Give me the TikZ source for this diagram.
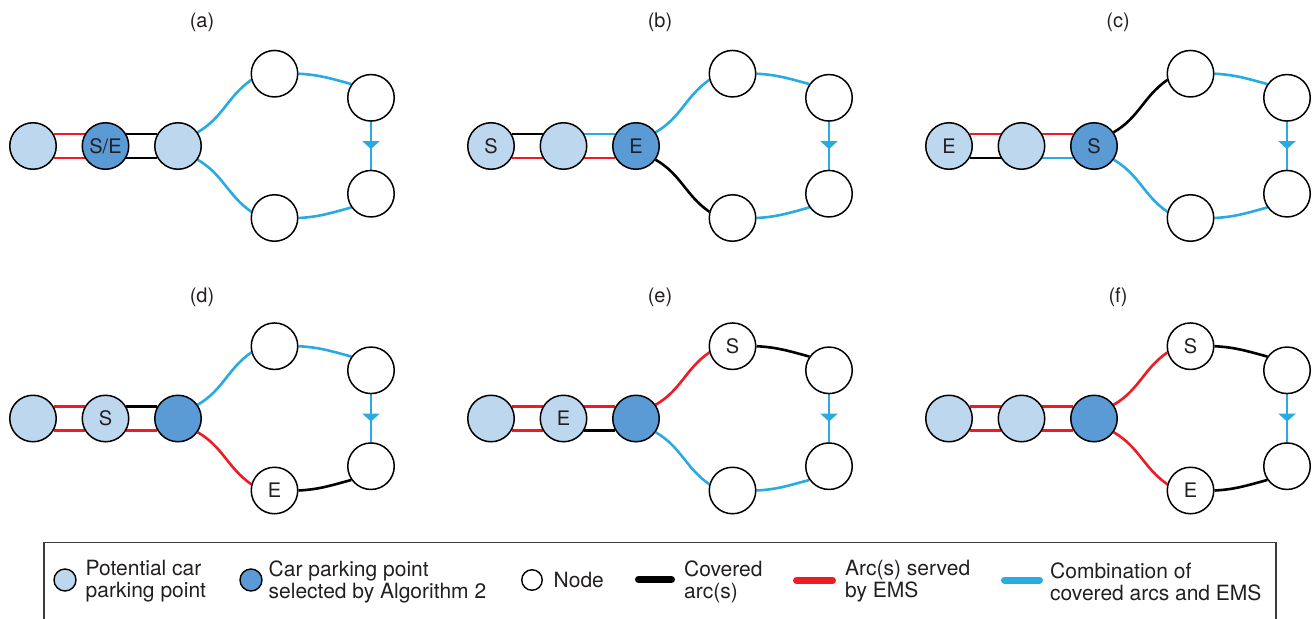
\documentclass[tikz,border=0pt]{standalone}
\usepackage{fontspec}
\setmainfont{TeX Gyre Heros}
\usetikzlibrary{arrows.meta,decorations.markings,backgrounds}
\definecolor{lightpt}{RGB}{189,215,238}
\definecolor{darkpt}{RGB}{91,155,213}
\definecolor{emsred}{RGB}{237,28,36}
\definecolor{combo}{RGB}{41,171,226}
\definecolor{txt}{RGB}{35,31,32}
\definecolor{frame}{RGB}{60,60,60}
\tikzset{
  circ/.style={circle, draw=black, line width=1.5pt, minimum size=46.5pt, inner sep=0pt, text=txt, font=\fontsize{20}{24}\selectfont},
  lp/.style={circ, fill=lightpt},
  dp/.style={circ, fill=darkpt},
  wn/.style={circ, fill=white},
  edgeline/.style={line width=2.6pt},
  cov/.style={edgeline, draw=black},
  ems/.style={edgeline, draw=emsred},
  cmb/.style={edgeline, draw=combo},
  flow/.style={cmb, postaction={decorate}, decoration={markings, mark=at position 0.57 with {\arrow{Triangle[width=17pt,length=8pt,color=combo]}}}},
  ptitle/.style={text=txt, font=\fontsize{20}{24}\selectfont, inner sep=0pt},
  lcirc/.style={circle, draw=black, line width=1.4pt, minimum size=22pt, inner sep=0pt},
  ltext/.style={anchor=west, align=left, inner sep=0pt, text=txt, font=\fontsize{21}{22}\selectfont},
  lline/.style={line width=7pt, line cap=round},
}
\newcommand\pedges[9]{%
  \begin{pgfonlayer}{background}
  \draw[#2] (#11.30) -- (#12.150);
  \draw[#3] (#11.-30) -- (#12.-150);
  \draw[#4] (#12.30) -- (#13.150);
  \draw[#5] (#12.-30) -- (#13.-150);
  \draw[#6] (#13.35) to[out=30,in=215] (#14.195);
  \draw[#7] (#13.-35) to[out=-30,in=145] (#17.165);
  \draw[#8] (#14.0) to[out=-3,in=165] (#15.145);
  \draw[#9] (#17.0) to[out=3,in=195] (#16.215);
  \draw[flow] (#15.south) -- (#16.north);
  \end{pgfonlayer}}
\begin{document}
\begin{tikzpicture}[x=1pt,y=-1pt]
\useasboundingbox (0,0) rectangle (1316,618);
% (a)
\begin{scope}[shift={(0,0)}]
  \node[ptitle] (at) at (202,22) {(a)};
  \node[lp] (a1) at (33,146) {};
  \node[dp] (a2) at (105.5,146) {S/E};
  \node[lp] (a3) at (178,146) {};
  \node[wn] (a4) at (274.5,73.7) {};
  \node[wn] (a5) at (371,97.8) {};
  \node[wn] (a6) at (371,193.7) {};
  \node[wn] (a7) at (274.5,218) {};
\end{scope}
\pedges{a}{ems}{ems}{cov}{cov}{cmb}{cmb}{cmb}{cmb}
% (b)
\begin{scope}[shift={(458,0)}]
  \node[ptitle] (bt) at (202,22) {(b)};
  \node[lp] (b1) at (33,146) {S};
  \node[lp] (b2) at (105.5,146) {};
  \node[dp] (b3) at (178,146) {E};
  \node[wn] (b4) at (274.5,73.7) {};
  \node[wn] (b5) at (371,97.8) {};
  \node[wn] (b6) at (371,193.7) {};
  \node[wn] (b7) at (274.5,218) {};
\end{scope}
\pedges{b}{cov}{ems}{cmb}{ems}{cmb}{cov}{cmb}{cmb}
% (c)
\begin{scope}[shift={(916,0)}]
  \node[ptitle] (ct) at (202,22) {(c)};
  \node[lp] (c1) at (33,146) {E};
  \node[lp] (c2) at (105.5,146) {};
  \node[dp] (c3) at (178,146) {S};
  \node[wn] (c4) at (274.5,73.7) {};
  \node[wn] (c5) at (371,97.8) {};
  \node[wn] (c6) at (371,193.7) {};
  \node[wn] (c7) at (274.5,218) {};
\end{scope}
\pedges{c}{ems}{cov}{ems}{cmb}{cov}{cmb}{cmb}{cmb}
% (d)
\begin{scope}[shift={(0,272.5)}]
  \node[ptitle] (dt) at (202,24.5) {(d)};
  \node[lp] (d1) at (33,146) {};
  \node[lp] (d2) at (105.5,146) {S};
  \node[dp] (d3) at (178,146) {};
  \node[wn] (d4) at (274.5,73.7) {};
  \node[wn] (d5) at (371,97.8) {};
  \node[wn] (d6) at (371,193.7) {};
  \node[wn] (d7) at (274.5,218) {E};
\end{scope}
\pedges{d}{ems}{ems}{cov}{ems}{cmb}{ems}{cmb}{cov}
% (e)
\begin{scope}[shift={(458,272.5)}]
  \node[ptitle] (et) at (202,24.5) {(e)};
  \node[lp] (e1) at (33,146) {};
  \node[lp] (e2) at (105.5,146) {E};
  \node[dp] (e3) at (178,146) {};
  \node[wn] (e4) at (274.5,73.7) {S};
  \node[wn] (e5) at (371,97.8) {};
  \node[wn] (e6) at (371,193.7) {};
  \node[wn] (e7) at (274.5,218) {};
\end{scope}
\pedges{e}{ems}{ems}{ems}{cov}{ems}{cmb}{cov}{cmb}
% (f)
\begin{scope}[shift={(916,272.5)}]
  \node[ptitle] (ft) at (202,24.5) {(f)};
  \node[lp] (f1) at (33,146) {};
  \node[lp] (f2) at (105.5,146) {};
  \node[dp] (f3) at (178,146) {};
  \node[wn] (f4) at (274.5,73.7) {S};
  \node[wn] (f5) at (371,97.8) {};
  \node[wn] (f6) at (371,193.7) {};
  \node[wn] (f7) at (274.5,218) {E};
\end{scope}
\pedges{f}{ems}{ems}{ems}{ems}{ems}{ems}{cov}{cov}
% legend
\draw[frame, line width=1.2pt] (44,622) -- (44,542.3) -- (1276,542.3) -- (1276,622);
\node[lcirc, fill=lightpt] (lg1) at (65,580) {};
\node[ltext] (lg1t) at (85.5,581.5) {Potential car\\parking point};
\node[lcirc, fill=darkpt] (lg2) at (251,580) {};
\node[ltext] (lg2t) at (268.5,581.5) {Car parking point\\selected by Algorithm 2};
\node[lcirc, fill=white, minimum size=20.5pt] (lg3) at (532,580) {};
\node[ltext] (lg3t) at (553.5,580) {Node};
\coordinate (k1) at (638.5,579.5);
\coordinate (k2) at (671.5,579.5);
\draw[lline, black] (k1) -- (k2);
\node[ltext] (lg4t) at (684,581.5) {Covered\\arc(s)};
\coordinate (r1) at (796.5,580.5);
\coordinate (r2) at (832.5,580.5);
\draw[lline, emsred] (r1) -- (r2);
\node[ltext] (lg5t) at (845,581.5) {Arc(s) served\\by EMS};
\coordinate (u1) at (1004.5,580);
\coordinate (u2) at (1039.5,580);
\draw[lline, combo] (u1) -- (u2);
\node[ltext] (lg6t) at (1050,581.5) {Combination of\\covered arcs and EMS};
\end{tikzpicture}
\end{document}
